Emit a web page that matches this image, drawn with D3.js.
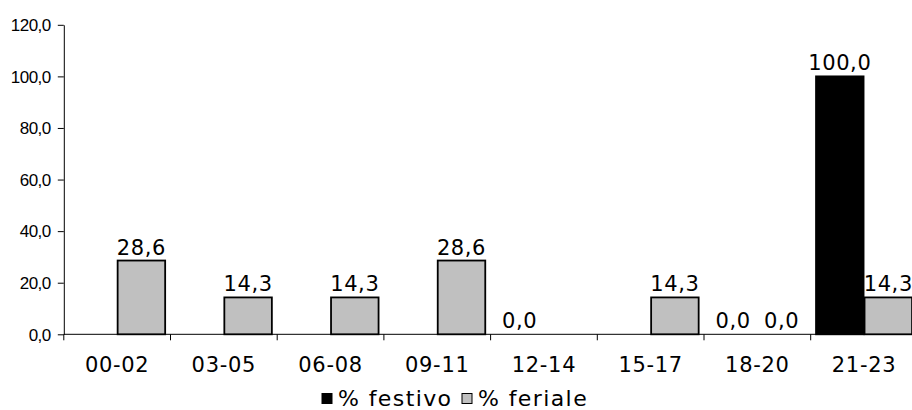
<!DOCTYPE html>
<html><head><meta charset="utf-8">
<script src="https://cdn.jsdelivr.net/npm/d3@7"></script>
<style>body{margin:0;background:#fff}svg{display:block}</style>
</head><body>
<svg id="c" width="912" height="410"></svg>
<script>
const categories = ["00-02","03-05","06-08","09-11","12-14","15-17","18-20","21-23"];
const festivo = [null,null,null,null,0,null,0,100];
const feriale = [28.6,14.3,14.3,28.6,null,14.3,0,14.3];
const yTicks = [0,20,40,60,80,100,120];
const seriesNames = ["% festivo","% feriale"];
const seriesColors = ["#000000","#c0c0c0"];

const svg = d3.select("#c");
const fmt = v => v.toFixed(1).replace(".", ",");

const y = d3.scaleLinear().domain([0,120]).range([334.3,24.8]);
const x0 = d3.scaleBand().domain(categories).range([63.8, 63.8 + 8*106.7]).paddingInner(0).paddingOuter(0);
const x1 = d3.scaleBand().domain([0,1]).range([0, x0.bandwidth()]).paddingInner(0.02).paddingOuter(0.11);

// y axis
const yAxis = d3.axisLeft(y).tickValues(yTicks).tickFormat(fmt).tickSize(6).tickSizeOuter(0);
const gy = svg.append("g").attr("transform","translate(63.8,0)").call(yAxis);
gy.select(".domain").attr("stroke","#000");
gy.selectAll(".tick line").attr("stroke","#000");
gy.selectAll(".tick text").attr("font-family","'Liberation Sans', Arial, sans-serif")
  .attr("font-size","17px").attr("letter-spacing","-0.5px").attr("fill","#000").attr("x",-13).attr("dy","0.34em");

// x axis
const gx = svg.append("g").attr("transform","translate(0,334.3)");
gx.append("line").attr("x1",63.8).attr("x2",912).attr("y1",0).attr("y2",0).attr("stroke","#000");
const bounds = categories.map(c => x0(c));
gx.selectAll("line.tk").data(bounds).join("line").attr("class","tk")
  .attr("x1",d=>d).attr("x2",d=>d).attr("y1",0).attr("y2",6).attr("stroke","#000");
gx.selectAll("text").data(categories).join("text")
  .attr("x",d=>x0(d)+x0.bandwidth()/2).attr("y",38)
  .attr("text-anchor","middle").attr("font-family","'DejaVu Sans', Verdana, sans-serif")
  .attr("font-size","21px").attr("letter-spacing","0.7px").attr("fill","#000").text(d=>d);

// bars
const series = [festivo, feriale];
series.forEach((vals, si) => {
  const g = svg.append("g");
  const pts = categories.map((c,i)=>({c, v: vals[i]})).filter(d=>d.v!==null);
  g.selectAll("rect").data(pts.filter(d=>d.v>0)).join("rect")
    .attr("x",d=>x0(d.c)+x1(si)).attr("width",x1.bandwidth())
    .attr("y",d=>y(d.v)).attr("height",d=>y(0)-y(d.v))
    .attr("fill",seriesColors[si]).attr("stroke","#000").attr("stroke-width",1.8);
  g.selectAll("text").data(pts).join("text")
    .attr("x",d=>x0(d.c)+x1(si)+x1.bandwidth()/2).attr("y",d=>y(d.v)-6)
    .attr("text-anchor","middle").attr("font-family","'DejaVu Sans', Verdana, sans-serif")
    .attr("font-size","21px").attr("letter-spacing","0.6px").attr("fill","#000").text(d=>fmt(d.v));
});

// legend
const lg = svg.append("g");
const legX = [322, 462];
seriesNames.forEach((n,i)=>{
  lg.append("rect").attr("x",legX[i]).attr("y",393.5).attr("width",10).attr("height",10)
    .attr("fill",seriesColors[i]).attr("stroke","#000").attr("stroke-width",1);
  lg.append("text").attr("x",legX[i]+16).attr("y",405.5)
    .attr("font-family","'DejaVu Sans', Verdana, sans-serif").attr("font-size","22px")
    .attr("letter-spacing","1.4px").attr("fill","#000").text(n);
});
</script>
</body></html>
